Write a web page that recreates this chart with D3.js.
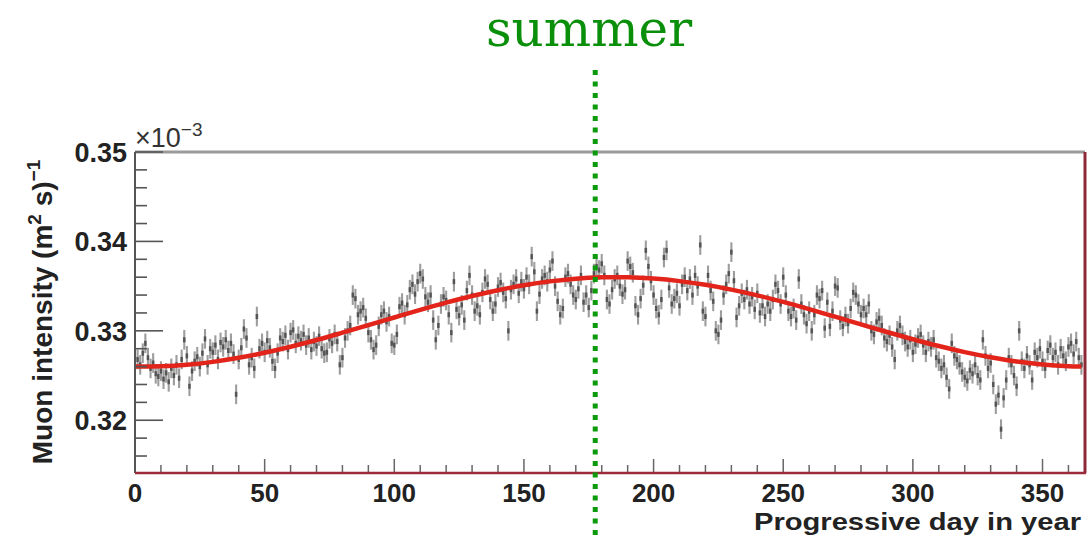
<!DOCTYPE html>
<html>
<head>
<meta charset="utf-8">
<script src="https://cdn.jsdelivr.net/npm/d3@7"></script>
<style>
  html, body { margin: 0; padding: 0; background: #fff; }
  svg { display: block; }
</style>
</head>
<body>
<svg id="chart"></svg>
<script>
// daily muon intensity, units of 1e-3 (m^2 s)^-1, day 1 .. 365
const intensity = [
  0.3268, 0.3262, 0.3275, 0.3286, 0.3270, 0.3258, 0.3264, 0.3252, 0.3249, 0.3255,
  0.3246, 0.3253, 0.3243, 0.3258, 0.3250, 0.3262, 0.3247, 0.3268, 0.3290, 0.3272,
  0.3238, 0.3255, 0.3266, 0.3271, 0.3260, 0.3275, 0.3291, 0.3262, 0.3280, 0.3276,
  0.3284, 0.3268, 0.3287, 0.3282, 0.3290, 0.3278, 0.3286, 0.3274, 0.3229, 0.3268,
  0.3281, 0.3302, 0.3292, 0.3262, 0.3270, 0.3258, 0.3316, 0.3280, 0.3286, 0.3276,
  0.3289, 0.3281, 0.3266, 0.3258, 0.3275, 0.3292, 0.3288, 0.3295, 0.3279, 0.3298,
  0.3301, 0.3286, 0.3294, 0.3289, 0.3296, 0.3284, 0.3292, 0.3279, 0.3288, 0.3283,
  0.3294, 0.3280, 0.3275, 0.3276, 0.3291, 0.3286, 0.3296, 0.3288, 0.3262, 0.3270,
  0.3292, 0.3300, 0.3306, 0.3340, 0.3336, 0.3318, 0.3322, 0.3326, 0.3314, 0.3298,
  0.3290, 0.3279, 0.3284, 0.3305, 0.3318, 0.3322, 0.3310, 0.3316, 0.3286, 0.3284,
  0.3296, 0.3327, 0.3331, 0.3318, 0.3329, 0.3346, 0.3352, 0.3341, 0.3355, 0.3364,
  0.3358, 0.3338, 0.3332, 0.3340, 0.3312, 0.3290, 0.3306, 0.3330, 0.3338, 0.3334,
  0.3318, 0.3298, 0.3355, 0.3324, 0.3317, 0.3329, 0.3312, 0.3345, 0.3362, 0.3340,
  0.3322, 0.3328, 0.3318, 0.3343, 0.3358, 0.3352, 0.3335, 0.3322, 0.3330, 0.3349,
  0.3354, 0.3343, 0.3336, 0.3300, 0.3346, 0.3352, 0.3358, 0.3342, 0.3355, 0.3347,
  0.3360, 0.3352, 0.3383, 0.3366, 0.3322, 0.3341, 0.3358, 0.3362, 0.3355, 0.3368,
  0.3378, 0.3350, 0.3333, 0.3318, 0.3325, 0.3360, 0.3364, 0.3352, 0.3340, 0.3335,
  0.3347, 0.3362, 0.3332, 0.3340, 0.3326, 0.3345, 0.3364, 0.3372, 0.3368, 0.3375,
  0.3362, 0.3335, 0.3330, 0.3346, 0.3358, 0.3362, 0.3350, 0.3341, 0.3346, 0.3378,
  0.3372, 0.3365, 0.3328, 0.3318, 0.3336, 0.3351, 0.3390, 0.3372, 0.3356, 0.3340,
  0.3325, 0.3318, 0.3335, 0.3382, 0.3390, 0.3348, 0.3330, 0.3336, 0.3342, 0.3328,
  0.3352, 0.3360, 0.3345, 0.3358, 0.3340, 0.3362, 0.3350, 0.3396, 0.3322, 0.3316,
  0.3362, 0.3345, 0.3333, 0.3300, 0.3296, 0.3312, 0.3340, 0.3352, 0.3364, 0.3388,
  0.3356, 0.3315, 0.3328, 0.3342, 0.3335, 0.3346, 0.3330, 0.3338, 0.3324, 0.3342,
  0.3320, 0.3328, 0.3316, 0.3330, 0.3322, 0.3335, 0.3352, 0.3345, 0.3330, 0.3360,
  0.3340, 0.3322, 0.3316, 0.3325, 0.3312, 0.3358, 0.3330, 0.3318, 0.3308, 0.3322,
  0.3300, 0.3318, 0.3340, 0.3336, 0.3345, 0.3303, 0.3332, 0.3305, 0.3322, 0.3350,
  0.3348, 0.3312, 0.3305, 0.3316, 0.3308, 0.3325, 0.3343, 0.3340, 0.3330, 0.3318,
  0.3325, 0.3318, 0.3330, 0.3300, 0.3296, 0.3310, 0.3314, 0.3306, 0.3292, 0.3288,
  0.3295, 0.3282, 0.3268, 0.3300, 0.3306, 0.3295, 0.3288, 0.3282, 0.3290, 0.3276,
  0.3285, 0.3292, 0.3296, 0.3284, 0.3276, 0.3288, 0.3282, 0.3290, 0.3270, 0.3266,
  0.3258, 0.3262, 0.3248, 0.3235, 0.3286, 0.3272, 0.3268, 0.3262, 0.3254, 0.3248,
  0.3244, 0.3256, 0.3252, 0.3262, 0.3250, 0.3245, 0.3290, 0.3272, 0.3258, 0.3264,
  0.3240, 0.3218, 0.3228, 0.3190, 0.3225, 0.3245, 0.3270, 0.3262, 0.3250, 0.3238,
  0.3300, 0.3266, 0.3258, 0.3272, 0.3262, 0.3245, 0.3276, 0.3270, 0.3280, 0.3266,
  0.3258, 0.3278, 0.3284, 0.3270, 0.3276, 0.3262, 0.3280, 0.3272, 0.3266, 0.3282,
  0.3286, 0.3274, 0.3288, 0.3270, 0.3262
];
const errorHalf = 0.0011;

// fitted seasonal curve, read every 10 days (last point day 365)
const fitDays = [0, 10, 20, 30, 40, 50, 60, 70, 80, 90, 100, 110, 120, 130, 140, 150, 160, 170, 180,
  190, 200, 210, 220, 230, 240, 250, 260, 270, 280, 290, 300, 310, 320, 330, 340, 350, 360, 365];
const fitValues = [0.32601, 0.32604, 0.32621, 0.32653, 0.32698, 0.32755, 0.32822, 0.32897, 0.32979,
  0.33063, 0.33149, 0.33234, 0.33315, 0.33389, 0.33454, 0.33510, 0.33553, 0.33583, 0.33598,
  0.33599, 0.33584, 0.33556, 0.33515, 0.33461, 0.33397, 0.33323, 0.33243, 0.33158, 0.33072,
  0.32987, 0.32906, 0.32830, 0.32762, 0.32704, 0.32656, 0.32623, 0.32604, 0.32601];

const xTicks = [0, 50, 100, 150, 200, 250, 300, 350];
const yTicks = [0.32, 0.33, 0.34, 0.35];
const summerDay = 177.5;

const width = 1090, height = 539;
const plot = { left: 135, right: 1084, top: 152, bottom: 473 };

const svg = d3.select('#chart').attr('width', width).attr('height', height);

const x = d3.scaleLinear().domain([0, 366]).range([plot.left, plot.right]);
const y = d3.scaleLinear().domain([0.3141, 0.35]).range([plot.bottom, plot.top]);

// error bars
const pts = svg.append('g');
intensity.forEach((v, i) => {
  const day = i + 1;
  pts.append('line')
    .attr('x1', x(day)).attr('x2', x(day))
    .attr('y1', y(v - errorHalf)).attr('y2', y(v + errorHalf))
    .attr('stroke', '#7c7c7c').attr('stroke-width', 2.1).attr('stroke-opacity', 0.75);
});
intensity.forEach((v, i) => {
  const day = i + 1;
  pts.append('rect')
    .attr('x', x(day) - 1.3).attr('y', y(v) - 2.5)
    .attr('width', 2.6).attr('height', 5)
    .attr('fill', '#333').attr('fill-opacity', 0.7);
});

// fit line
const fit = fitDays.map((d, i) => [d, fitValues[i]]);
svg.append('path')
  .datum(fit)
  .attr('fill', 'none')
  .attr('stroke', '#e2241b')
  .attr('stroke-width', 4.5)
  .attr('d', d3.line().x(d => x(d[0])).y(d => y(d[1])).curve(d3.curveCatmullRom));

// frame
svg.append('line').attr('x1', plot.left).attr('x2', plot.right + 1).attr('y1', plot.top).attr('y2', plot.top)
  .attr('stroke', '#9a9a9a').attr('stroke-width', 3);
svg.append('line').attr('x1', plot.right + 1).attr('x2', plot.right + 1).attr('y1', plot.top).attr('y2', plot.bottom)
  .attr('stroke', '#8e2a38').attr('stroke-width', 3);

// y axis
const yAxis = svg.append('g');
yAxis.append('line').attr('x1', plot.left).attr('x2', plot.left).attr('y1', plot.top).attr('y2', plot.bottom)
  .attr('stroke', '#555').attr('stroke-width', 2);
d3.range(0.316, 0.3501, 0.002).forEach(t => {
  const major = yTicks.some(m => Math.abs(m - t) < 1e-6);
  yAxis.append('line').attr('x1', plot.left).attr('x2', plot.left + (major ? 28 : 12))
    .attr('y1', y(t)).attr('y2', y(t))
    .attr('stroke', '#555').attr('stroke-width', 1.6);
});
yAxis.selectAll('text.tick').data(yTicks).enter().append('text')
  .attr('x', 127).attr('y', d => y(d)).attr('dy', '0.36em')
  .attr('text-anchor', 'end')
  .attr('font-family', 'Liberation Sans, Arial, sans-serif')
  .attr('font-weight', 'bold').attr('font-size', 27).attr('fill', '#222')
  .text(d => d.toFixed(2));

// x axis
const xAxis = svg.append('g');
d3.range(10, 366, 10).forEach(t => {
  const major = t % 50 === 0;
  xAxis.append('line').attr('x1', x(t)).attr('x2', x(t))
    .attr('y1', plot.bottom).attr('y2', plot.bottom - (major ? 14 : 8))
    .attr('stroke', '#666').attr('stroke-width', 1.5);
});
xAxis.append('line').attr('x1', plot.left).attr('x2', plot.right + 2).attr('y1', plot.bottom).attr('y2', plot.bottom)
  .attr('stroke', '#9b2b3a').attr('stroke-width', 2.5);
xAxis.selectAll('text.tick').data(xTicks).enter().append('text')
  .attr('x', d => x(d)).attr('y', 502)
  .attr('text-anchor', 'middle')
  .attr('font-family', 'Liberation Sans, Arial, sans-serif')
  .attr('font-weight', 'bold').attr('font-size', 26).attr('fill', '#222')
  .text(d => d);

// axis titles
svg.append('text')
  .attr('x', 1081).attr('y', 530)
  .attr('text-anchor', 'end')
  .attr('font-family', 'Liberation Sans, Arial, sans-serif')
  .attr('font-weight', 'bold').attr('font-size', 24).attr('fill', '#222')
  .attr('textLength', 327).attr('lengthAdjust', 'spacingAndGlyphs')
  .text('Progressive day in year');

const yt = svg.append('text')
  .attr('transform', 'translate(52,312) rotate(-90)')
  .attr('text-anchor', 'middle')
  .attr('font-family', 'Liberation Sans, Arial, sans-serif')
  .attr('font-weight', 'bold').attr('font-size', 28).attr('fill', '#222');
yt.append('tspan').text('Muon intensity (m');
yt.append('tspan').attr('dy', -11).attr('font-size', 19).text('2');
yt.append('tspan').attr('dy', 11).text(' s)');
yt.append('tspan').attr('dy', -12).attr('font-size', 19).text('\u22121');

const exp = svg.append('text')
  .attr('x', 135).attr('y', 147)
  .attr('font-family', 'Liberation Sans, Arial, sans-serif')
  .attr('font-size', 27).attr('fill', '#333');
exp.append('tspan').text('\u00d710');
exp.append('tspan').attr('dy', -11).attr('font-size', 19).text('\u22123');

// summer marker
svg.append('line')
  .attr('x1', x(summerDay)).attr('x2', x(summerDay))
  .attr('y1', 70).attr('y2', height)
  .attr('stroke', '#0a9a0a').attr('stroke-width', 5)
  .attr('stroke-dasharray', '5,6.5');
svg.append('text')
  .attr('x', 589).attr('y', 46)
  .attr('text-anchor', 'middle')
  .attr('font-family', 'DejaVu Serif, serif')
  .attr('font-size', 50).attr('fill', '#0a8f0a')
  .text('summer');
</script>
</body>
</html>
